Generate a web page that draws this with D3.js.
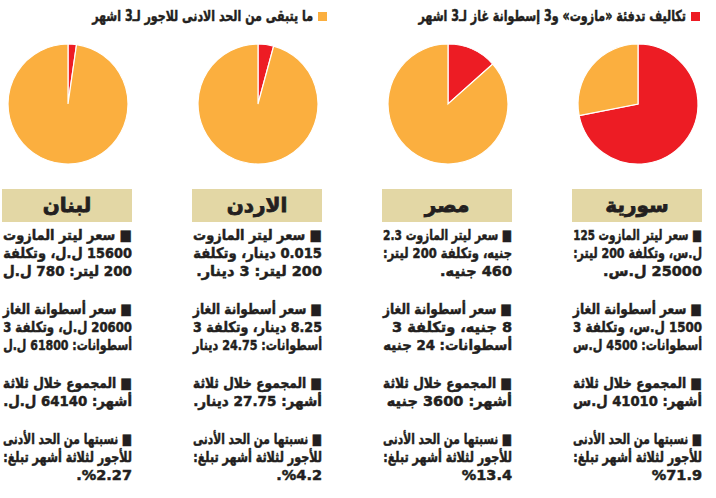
<!DOCTYPE html>
<html lang="ar">
<head>
<meta charset="utf-8">
<script src="https://cdn.jsdelivr.net/npm/d3@7"></script>
<style>
  html, body { margin: 0; padding: 0; background: #fff; }
  svg { display: block; }
  text { font-family: "DejaVu Sans", sans-serif; font-weight: bold; fill: #231f20; stroke: #231f20; stroke-width: 0.5px; }
</style>
</head>
<body>
<svg id="chart"></svg>
<script>
const width = 716
const height = 498

// countries, from left to right as drawn
const countries = ["لبنان", "الاردن", "مصر", "سورية"]
// share of 3-month minimum wage spent on heating (%)
const shares = [2.27, 4.2, 13.4, 71.9]

const legendLabels = ["تكاليف تدفئة «مازوت» و3 إسطوانة غاز لـ3 اشهر", "ما يتبقى من الحد الادنى للاجور لـ3 اشهر"]
const colors = ["#ed1c24", "#fbaf3f"]

// text blocks under each country, one array of lines per paragraph
const notes = [
    [
        ["■ سعر ليتر المازوت", "15600 ل.ل، وتكلفة", "200 ليتر: 780 ل.ل"],
        ["■ سعر أسطوانة الغاز", "20600 ل.ل، وتكلفة 3", "أسطوانات: 61800 ل.ل"],
        ["■ المجموع خلال ثلاثة", "أشهر: 64140 ل.ل."],
        ["■ نسبتها من الحد الأدنى", "للأجور لثلاثة أشهر تبلغ:", "%2.27."]
    ],
    [
        ["■ سعر ليتر المازوت", "0.015 دينار، وتكلفة", "200 ليتر: 3 دينار."],
        ["■ سعر أسطوانة الغاز", "8.25 دينار، وتكلفة 3", "أسطوانات: 24.75 دينار"],
        ["■ المجموع خلال ثلاثة", "أشهر: 27.75 دينار."],
        ["■ نسبتها من الحد الأدنى", "للأجور لثلاثة أشهر تبلغ:", "%4.2."]
    ],
    [
        ["■ سعر ليتر المازوت 2.3", "جنيه، وتكلفة 200 ليتر:", "460 جنيه."],
        ["■ سعر أسطوانة الغاز", "8 جنيه، وتكلفة 3", "أسطوانات: 24 جنيه"],
        ["■ المجموع خلال ثلاثة", "أشهر: 3600 جنيه"],
        ["■ نسبتها من الحد الأدنى", "للأجور لثلاثة أشهر تبلغ:", "%13.4"]
    ],
    [
        ["■ سعر ليتر المازوت 125", "ل.س، وتكلفة 200 ليتر:", "25000 ل.س."],
        ["■ سعر أسطوانة الغاز", "1500 ل.س، وتكلفة 3", "أسطوانات: 4500 ل.س"],
        ["■ المجموع خلال ثلاثة", "أشهر: 41010 ل.س"],
        ["■ نسبتها من الحد الأدنى", "للأجور لثلاثة أشهر تبلغ:", "%71.9"]
    ]
]

const svg = d3.select("#chart")
    .attr("width", width)
    .attr("height", height)

const x = d3.scaleBand()
    .domain(countries)
    .range([0, 760])

const boxWidth = 130
const radius = 60
const pieY = 104

// right-to-left embedding so bullets sit on the right
const rtl = s => "\u202B" + s + "\u202C"

// right-aligned text at (xr, y), condensed horizontally when wider than maxW
function rtext(parent, xr, y, str, size, maxW) {
    const t = parent.append("text")
        .attr("text-anchor", "end")
        .attr("font-size", size)
        .text(rtl(str))
    const w = t.node().getComputedTextLength()
    const k = w > maxW ? maxW / w : 1
    t.attr("transform", `translate(${xr},${y}) scale(${k},1)`)
    return t
}

// legend
const legendX = [686, 313]
const legendW = [268, 221]
legendLabels.forEach((label, i) => {
    svg.append("rect")
        .attr("x", legendX[i] + 5)
        .attr("y", 12)
        .attr("width", 9)
        .attr("height", 9)
        .attr("fill", colors[i])
    rtext(svg, legendX[i], 21, label, 15, legendW[i])
})

const pie = d3.pie()
    .sort(null)
    .value(d => d)

const arc = d3.arc()
    .innerRadius(0)
    .outerRadius(radius)

countries.forEach((c, i) => {
    const left = x(c) + 2
    const right = left + boxWidth
    const g = svg.append("g")

    g.append("g")
        .attr("transform", `translate(${left + boxWidth / 2 + 1},${pieY})`)
        .selectAll("path")
        .data(pie([shares[i], 100 - shares[i]]))
        .join("path")
            .attr("d", arc)
            .attr("fill", (d, j) => colors[j])
            .attr("stroke", "#fff")
            .attr("stroke-width", 1.2)

    g.append("rect")
        .attr("x", left)
        .attr("y", 189)
        .attr("width", boxWidth)
        .attr("height", 33)
        .attr("fill", "#e3d7a5")

    g.append("text")
        .attr("x", left + boxWidth / 2)
        .attr("y", 212)
        .attr("text-anchor", "middle")
        .attr("font-size", 20)
        .style("stroke-width", "0.8px")
        .text(c)

    let y = 240
    notes[i].forEach(par => {
        par.forEach(line => {
            rtext(g, right, y, line, 14.5, boxWidth - 1)
            y += 18
        })
        y += 20
    })
})
</script>
</body>
</html>
